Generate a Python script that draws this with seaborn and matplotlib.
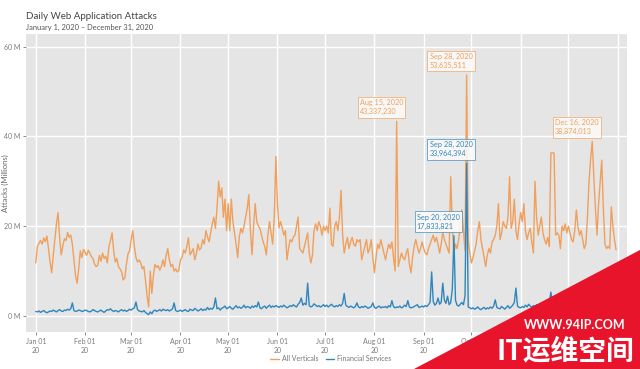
import matplotlib.pyplot as plt
import pandas as pd
import seaborn as sns
from matplotlib.patches import Polygon


# ============================================================
# DATA  (daily values, millions of attacks)
# ============================================================

av_jan = [11.8, 15.5, 16.2, 16.8, 16.0, 17.4, 16.5, 17.8, 15.0, 12.0, 9.6, 13.5, 17.0, 20.5, 23.0, 17.5,
          13.6, 15.5, 17.2, 16.8, 18.6, 17.5, 18.0, 16.0, 12.5, 9.0, 7.3, 10.5, 14.5, 13.0, 14.8]
av_feb = [14.2, 13.5, 14.6, 14.0, 13.2, 12.8, 11.5, 11.0, 11.3, 13.5, 12.2, 14.0, 12.8, 13.3, 11.8, 15.5,
          16.8, 18.5, 14.5, 12.0, 12.8, 11.0, 10.5, 9.8, 8.0, 8.5, 11.5, 13.8, 14.5]
av_mar = [17.0, 19.0, 15.5, 13.0, 12.0, 12.5, 11.8, 10.5, 11.0, 8.0, 4.5, 2.0, 10.0, 5.0, 9.0, 11.5,
          10.8, 11.2, 10.2, 11.0, 12.5, 11.0, 13.5, 15.0, 12.5, 11.0, 11.5, 10.0, 10.5, 9.8, 10.2]
av_apr = [12.5, 13.0, 14.7, 14.0, 15.5, 17.4, 13.6, 14.2, 15.0, 12.5, 13.8, 16.0, 14.7, 15.2, 17.0,
          16.0, 19.0, 17.6, 16.5, 18.5, 20.5, 22.0, 19.5, 24.0, 30.0, 26.5, 28.5, 22.0, 26.0, 19.0]
av_may = [25.0, 19.0, 26.0, 21.0, 18.5, 16.0, 13.0, 17.6, 19.5, 18.5, 20.0, 22.0, 24.0, 27.0, 19.0, 13.6,
          20.0, 25.0, 21.0, 20.0, 19.5, 18.0, 16.5, 15.5, 13.6, 18.0, 21.0, 18.5, 16.0, 22.0, 35.5]
av_jun = [25.0, 19.6, 21.0, 19.6, 18.0, 19.0, 12.5, 15.0, 17.0, 16.5, 17.5, 18.0, 20.0, 22.0, 15.0,
          14.5, 14.0, 15.5, 17.0, 18.5, 14.0, 11.8, 13.5, 19.0, 20.5, 19.0, 21.0, 20.0, 18.0, 20.0]
av_jul = [19.0, 20.0, 18.5, 24.0, 16.0, 15.5, 20.0, 21.0, 19.0, 22.0, 28.0, 18.0, 14.0, 16.0, 17.5, 15.0,
          16.5, 17.5, 16.0, 15.5, 17.0, 16.5, 17.0, 12.5, 14.0, 15.5, 17.0, 14.0, 15.0, 17.0, 13.0]
av_aug = [9.6, 13.0, 16.0, 15.0, 17.0, 15.5, 14.0, 12.5, 14.5, 16.0, 15.0, 16.5, 13.0, 10.0, 43.337, 11.0,
          12.5, 14.0, 13.0, 12.5, 14.0, 15.0, 11.5, 9.6, 13.0, 15.5, 17.0, 15.5, 14.0, 15.0, 16.5]
av_sep = [15.0, 14.0, 13.6, 15.0, 16.0, 17.0, 18.0, 16.5, 17.5, 16.0, 14.0, 16.0, 18.7, 17.0, 16.0,
          15.0, 14.0, 31.0, 20.0, 14.0, 16.0, 15.0, 17.0, 20.0, 23.6, 19.0, 14.5, 53.636, 17.0, 14.0]
av_oct = [11.8, 13.0, 14.5, 16.0, 19.0, 21.0, 17.0, 15.0, 13.0, 11.0, 13.5, 15.0, 14.0, 16.5, 17.0, 18.0,
          20.0, 25.0, 17.0, 18.5, 21.0, 20.0, 19.5, 22.0, 31.0, 19.5, 21.0, 26.0, 19.0, 17.0, 20.5]
av_nov = [23.0, 21.0, 25.0, 19.0, 17.0, 18.5, 19.5, 16.5, 14.0, 30.0, 22.0, 18.0, 20.0, 22.0, 18.5,
          17.0, 16.0, 17.5, 15.4, 36.3, 36.3, 36.3, 18.0, 18.5, 18.0, 15.0, 20.0, 19.0, 20.5, 18.5]
av_dec = [20.0, 18.5, 17.0, 16.5, 19.0, 23.6, 20.0, 18.0, 19.0, 17.0, 15.0, 16.0, 22.0, 30.0, 35.0, 38.874,
          31.0, 24.0, 18.0, 25.0, 30.0, 34.7, 24.0, 16.0, 15.0, 15.5, 15.0, 24.3, 20.0, 17.0, 14.7]

fs_jan = [1.0, 0.9, 1.1, 0.8, 1.0, 1.2, 0.9, 0.7, 0.9, 1.1, 1.0, 1.3, 1.1, 0.9, 1.2, 1.4,
          1.1, 1.0, 1.3, 1.2, 1.5, 1.3, 1.6, 2.9, 1.2, 1.0, 1.1, 1.3, 1.2, 1.0, 1.1]
fs_feb = [1.3, 1.2, 1.0, 0.9, 1.1, 1.4, 1.2, 1.0, 0.9, 1.1, 1.3, 1.0, 0.8, 1.1, 1.4, 1.3,
          1.6, 1.2, 1.0, 1.2, 1.1, 0.9, 1.2, 1.4, 1.1, 1.3, 1.0, 1.2, 1.5]
fs_mar = [1.3, 1.6, 1.8, 3.1, 1.4, 1.1, 1.0, 0.9, 1.2, 0.8, 0.5, 0.3, 0.9, 0.5, 1.1, 1.3,
          1.0, 1.2, 1.4, 1.1, 1.5, 1.3, 1.2, 1.4, 1.1, 1.3, 1.6, 2.9, 1.2, 1.0, 1.1]
fs_apr = [1.3, 1.0, 1.2, 1.4, 1.1, 1.0, 1.5, 1.3, 1.2, 1.7, 1.4, 1.1, 1.3, 1.6, 1.2,
          1.5, 1.3, 1.9, 1.4, 1.7, 1.5, 2.0, 4.0, 1.6, 1.8, 1.3, 1.7, 1.9, 2.2, 1.6]
fs_may = [1.8, 2.1, 1.7, 1.5, 1.9, 2.3, 1.8, 2.0, 1.7, 1.9, 2.4, 1.8, 2.1, 2.0, 1.7, 2.2,
          1.9, 2.3, 2.0, 3.1, 1.8, 1.6, 2.0, 2.2, 1.7, 2.1, 2.4, 1.9, 2.2, 2.0, 2.3]
fs_jun = [2.1, 1.9, 2.2, 2.0, 2.4, 2.1, 1.8, 2.0, 2.3, 2.1, 2.5, 2.2, 2.0, 2.6, 3.0,
          4.0, 2.4, 2.8, 2.5, 7.3, 2.3, 2.0, 2.2, 2.7, 2.4, 2.1, 2.3, 2.0, 2.2, 2.5]
fs_jul = [2.1, 2.4, 2.0, 2.3, 2.6, 2.2, 2.0, 2.3, 2.1, 2.5, 2.2, 2.8, 5.0, 2.4, 2.1, 1.9,
          2.2, 2.0, 1.8, 2.1, 2.9, 2.0, 1.8, 2.1, 1.9, 2.2, 2.0, 1.7, 1.9, 2.1, 2.9]
fs_aug = [1.9, 1.7, 2.0, 2.2, 1.8, 2.0, 1.9, 2.1, 1.8, 2.3, 2.0, 3.4, 2.1, 1.8, 2.0, 1.9,
          2.2, 1.8, 2.0, 2.4, 2.1, 3.4, 2.0, 1.8, 1.9, 2.1, 2.3, 2.5, 1.9, 2.0, 2.2]
fs_sep = [2.0, 2.3, 2.1, 2.5, 3.0, 9.8, 3.2, 2.4, 2.8, 4.0, 2.6, 3.0, 7.3, 3.5, 2.8,
          4.4, 2.5, 3.0, 6.0, 17.834, 3.5, 2.4, 2.2, 2.6, 3.0, 2.5, 4.5, 33.964, 2.0, 1.8]
fs_oct = [1.6, 1.8, 1.5, 1.7, 2.0, 1.6, 1.4, 1.7, 1.9, 1.5, 1.8, 1.6, 2.0, 1.7, 2.2, 3.6,
          1.9, 1.7, 1.6, 2.1, 1.8, 1.5, 1.9, 2.3, 1.7, 2.0, 2.4, 3.0, 6.2, 2.2, 1.9]
fs_nov = [1.8, 2.1, 1.9, 2.4, 2.0, 2.6, 2.2, 1.9, 2.3, 2.1, 2.5, 2.0, 2.3, 2.7, 2.2,
          2.4, 2.1, 2.8, 3.0, 5.3, 2.6, 2.2, 2.4, 2.0, 2.3, 2.6, 2.1, 2.4, 2.2, 2.0]
fs_dec = [2.3, 2.1, 2.5, 2.2, 2.4, 2.7, 2.3, 2.0, 2.6, 2.4, 2.2, 2.5, 2.3, 2.8, 2.4, 2.6,
          2.3, 2.1, 2.5, 2.7, 2.4, 2.2, 2.6, 2.3, 2.0, 2.1, 2.4, 2.6, 2.3, 2.1, 2.2]

series_names = ["All Verticals", "Financial Services"]
series_colors = ["#f0a05c", "#2f86bd"]

ann_dates = ["2020-08-15", "2020-09-28", "2020-09-28", "2020-09-20", "2020-12-16"]
ann_values = [43337230, 53635511, 33964394, 17833821, 38874013]
ann_series = ["All Verticals", "All Verticals", "Financial Services", "Financial Services", "All Verticals"]


# ============================================================
# BUILD LONG TABLE
# ============================================================

av_months = [av_jan, av_feb, av_mar, av_apr, av_may, av_jun,
             av_jul, av_aug, av_sep, av_oct, av_nov, av_dec]
fs_months = [fs_jan, fs_feb, fs_mar, fs_apr, fs_may, fs_jun,
             fs_jul, fs_aug, fs_sep, fs_oct, fs_nov, fs_dec]

dates = pd.date_range("2020-01-01", "2020-12-31", freq="D")
av_all = sum(av_months, [])
fs_all = sum(fs_months, [])

df = pd.concat([
    pd.DataFrame({"date": dates, "attacks": av_all, "series": series_names[0]}),
    pd.DataFrame({"date": dates, "attacks": fs_all, "series": series_names[1]}),
], ignore_index=True)


# ============================================================
# CHART
# ============================================================

sns.set_theme(
    style="darkgrid",
    rc={
        "axes.facecolor": "#e5e5e5",
        "grid.color": "white",
        "grid.linewidth": 1.0,
        "xtick.bottom": True,
        "ytick.left": True,
    },
)
plt.rcParams["font.family"] = ["Lato", "DejaVu Sans"]

fig = plt.figure(figsize=(6.4, 3.69), dpi=100)
ax = fig.add_axes([0.041, 0.100, 0.939, 0.808])

palette = dict(zip(series_names, series_colors))

sns.lineplot(
    data=df,
    x="date",
    y="attacks",
    hue="series",
    palette=palette,
    linewidth=1.0,
    ax=ax,
)

ax.set_xlim(pd.Timestamp("2019-12-26"), pd.Timestamp("2021-01-07"))
ax.set_ylim(-3.6, 62.8)

# month gridlines; labels under the watermark are not visible in the source
month_ticks = pd.date_range("2020-01-01", "2021-01-01", freq="MS")
hidden = {"Nov", "Dec"}
ax.set_xticks(month_ticks)
ax.set_xticklabels([
    "" if (d.strftime("%b") in hidden or d.year == 2021) else d.strftime("%b %d\n%y")
    for d in month_ticks
])
ax.set_yticks([0, 20, 40, 60])
ax.set_yticklabels([f"{v} M" for v in [0, 20, 40, 60]])

ax.tick_params(axis="both", length=2.5, width=0.6, color="#777777",
               labelcolor="#7a7a7a", labelsize=5, pad=2)
ax.set_xlabel("")
ax.set_ylabel("Attacks (Millions)", fontsize=5.5, color="#666666")
ax.yaxis.set_label_coords(-0.029, 0.5)

for side in ax.spines.values():
    side.set_visible(False)

# annotations
for d, v, s in zip(ann_dates, ann_values, ann_series):
    c = palette[s]
    label = pd.Timestamp(d).strftime("%b %d, %Y") + "\n" + f"{v:,}"
    ax.annotate(
        label,
        xy=(pd.Timestamp(d), v / 1e6),
        xytext=(-37, 6),
        textcoords="offset pixels",
        ha="left",
        va="bottom",
        fontsize=5.2,
        color=c,
        linespacing=1.35,
        bbox=dict(boxstyle="square,pad=0.3", facecolor="#fbfaf8",
                  edgecolor=c, linewidth=0.5, alpha=0.9),
    )

# legend at bottom
sns.move_legend(
    ax,
    "center",
    bbox_to_anchor=(0.507, -0.09),
    ncol=2,
    frameon=False,
    title=None,
    fontsize=5,
    handlelength=1.2,
    columnspacing=1.0,
    handletextpad=0.5,
)
for t in ax.get_legend().get_texts():
    t.set_color("#777777")

# title and subtitle
fig.text(0.041, 0.955, "Daily Web Application Attacks", fontsize=7,
         color="#444444", ha="left", va="center")
fig.text(0.041, 0.925, "January 1, 2020 \u2013 December 31, 2020", fontsize=5.4,
         color="#555555", ha="left", va="center")

# watermark from the source image
fig.add_artist(Polygon([(414 / 640, 0), (1, 0.3225), (1, 0)], closed=True,
                       transform=fig.transFigure, facecolor="#e8142c",
                       edgecolor="none", zorder=10))
fig.text(0.898, 0.118, "WWW.94IP.COM", fontsize=9, fontweight="bold",
         color="white", ha="center", va="center", zorder=11)
fig.text(0.884, 0.048, "IT运维空间", fontsize=20, fontweight="bold",
         color="white", ha="center", va="center", zorder=11,
         family=["Noto Sans CJK SC", "DejaVu Sans"])

plt.savefig("out.png", dpi=100)
plt.close()
